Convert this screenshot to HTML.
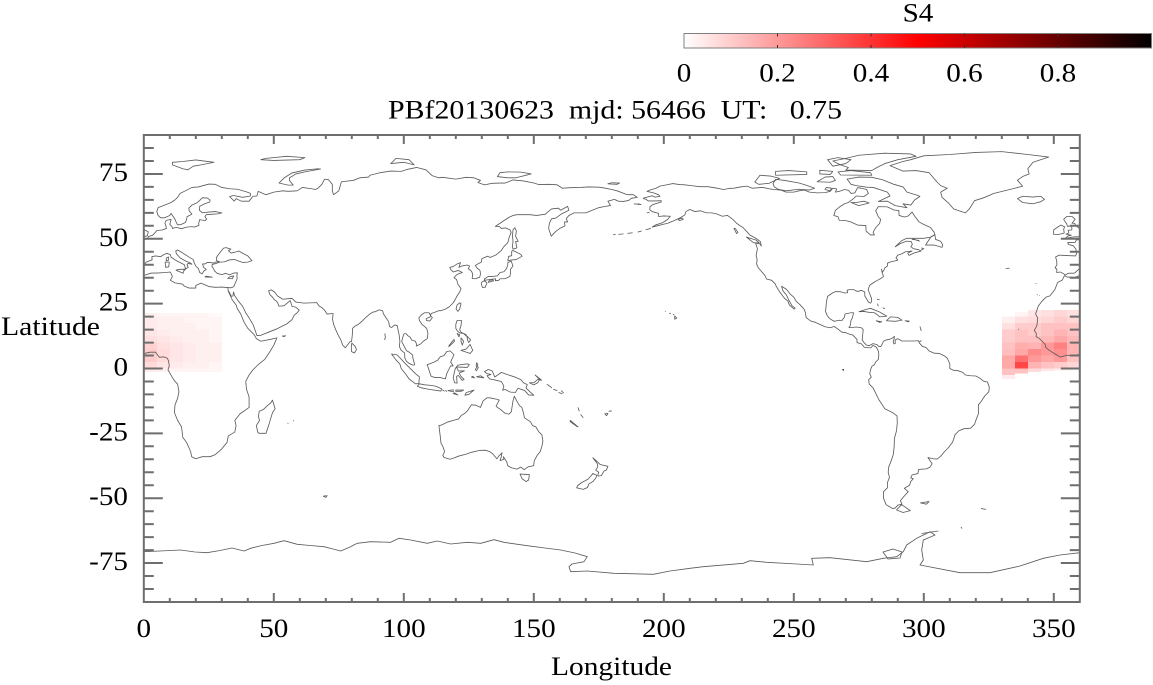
<!DOCTYPE html>
<html><head><meta charset="utf-8"><style>
html,body{margin:0;padding:0;background:#fff;width:1153px;height:685px;overflow:hidden}
svg{display:block}
text{font-family:"Liberation Serif","DejaVu Serif",serif;font-size:26px;fill:#000}
</style></head><body>
<svg xmlns="http://www.w3.org/2000/svg" width="1153" height="685" viewBox="0 0 1153 685">
<defs>
<clipPath id="clp"><rect x="143.8" y="135" width="936" height="467"/></clipPath>
<linearGradient id="cb" x1="0" y1="0" x2="1" y2="0">
<stop offset="0" stop-color="#ffffff"/><stop offset="0.5" stop-color="#ff0000"/><stop offset="1" stop-color="#000000"/>
</linearGradient>
</defs>
<rect width="1153" height="685" fill="#fff"/>
<g clip-path="url(#clp)">
<g shape-rendering="crispEdges">
<rect x="1001.8" y="316.62" width="13" height="6.6" fill="rgb(255,240,240)"/>
<rect x="1001.8" y="323.1" width="13" height="6.6" fill="rgb(255,224,224)"/>
<rect x="1001.8" y="329.59" width="13" height="6.6" fill="rgb(255,204,204)"/>
<rect x="1001.8" y="336.08" width="13" height="6.6" fill="rgb(255,204,204)"/>
<rect x="1001.8" y="342.56" width="13" height="6.6" fill="rgb(255,194,194)"/>
<rect x="1001.8" y="349.05" width="13" height="6.6" fill="rgb(255,189,189)"/>
<rect x="1001.8" y="355.53" width="13" height="6.6" fill="rgb(255,168,168)"/>
<rect x="1001.8" y="362.02" width="13" height="6.6" fill="rgb(255,168,168)"/>
<rect x="1001.8" y="368.5" width="13" height="6.6" fill="rgb(255,194,194)"/>
<rect x="1001.8" y="374.99" width="13" height="4" fill="rgb(255,235,235)"/>
<rect x="1014.8" y="312" width="13" height="4.7" fill="rgb(255,245,245)"/>
<rect x="1014.8" y="316.62" width="13" height="6.6" fill="rgb(255,224,224)"/>
<rect x="1014.8" y="323.1" width="13" height="6.6" fill="rgb(255,204,204)"/>
<rect x="1014.8" y="329.59" width="13" height="6.6" fill="rgb(255,194,194)"/>
<rect x="1014.8" y="336.08" width="13" height="6.6" fill="rgb(255,194,194)"/>
<rect x="1014.8" y="342.56" width="13" height="6.6" fill="rgb(255,173,173)"/>
<rect x="1014.8" y="349.05" width="13" height="6.6" fill="rgb(255,168,168)"/>
<rect x="1014.8" y="355.53" width="13" height="6.6" fill="rgb(255,112,112)"/>
<rect x="1014.8" y="362.02" width="13" height="6.6" fill="rgb(255,71,71)"/>
<rect x="1014.8" y="368.5" width="13" height="5" fill="rgb(255,194,194)"/>
<rect x="1027.8" y="310.14" width="13" height="6.6" fill="rgb(255,230,230)"/>
<rect x="1027.8" y="316.62" width="13" height="6.6" fill="rgb(255,219,219)"/>
<rect x="1027.8" y="323.1" width="13" height="6.6" fill="rgb(255,204,204)"/>
<rect x="1027.8" y="329.59" width="13" height="6.6" fill="rgb(255,204,204)"/>
<rect x="1027.8" y="336.08" width="13" height="6.6" fill="rgb(255,194,194)"/>
<rect x="1027.8" y="342.56" width="13" height="6.6" fill="rgb(255,179,179)"/>
<rect x="1027.8" y="349.05" width="13" height="6.6" fill="rgb(255,138,138)"/>
<rect x="1027.8" y="355.53" width="13" height="6.6" fill="rgb(255,153,153)"/>
<rect x="1027.8" y="362.02" width="13" height="6.6" fill="rgb(255,179,179)"/>
<rect x="1027.8" y="368.5" width="13" height="3.5" fill="rgb(255,219,219)"/>
<rect x="1040.8" y="310.14" width="13" height="6.6" fill="rgb(255,224,224)"/>
<rect x="1040.8" y="316.62" width="13" height="6.6" fill="rgb(255,214,214)"/>
<rect x="1040.8" y="323.1" width="13" height="6.6" fill="rgb(255,194,194)"/>
<rect x="1040.8" y="329.59" width="13" height="6.6" fill="rgb(255,194,194)"/>
<rect x="1040.8" y="336.08" width="13" height="6.6" fill="rgb(255,184,184)"/>
<rect x="1040.8" y="342.56" width="13" height="6.6" fill="rgb(255,153,153)"/>
<rect x="1040.8" y="349.05" width="13" height="6.6" fill="rgb(255,153,153)"/>
<rect x="1040.8" y="355.53" width="13" height="6.6" fill="rgb(255,168,168)"/>
<rect x="1040.8" y="362.02" width="13" height="6.6" fill="rgb(255,194,194)"/>
<rect x="1040.8" y="368.5" width="13" height="2.5" fill="rgb(255,230,230)"/>
<rect x="1053.8" y="310.14" width="13" height="6.6" fill="rgb(255,214,214)"/>
<rect x="1053.8" y="316.62" width="13" height="6.6" fill="rgb(255,204,204)"/>
<rect x="1053.8" y="323.1" width="13" height="6.6" fill="rgb(255,194,194)"/>
<rect x="1053.8" y="329.59" width="13" height="6.6" fill="rgb(255,179,179)"/>
<rect x="1053.8" y="336.08" width="13" height="6.6" fill="rgb(255,168,168)"/>
<rect x="1053.8" y="342.56" width="13" height="6.6" fill="rgb(255,128,128)"/>
<rect x="1053.8" y="349.05" width="13" height="6.6" fill="rgb(255,143,143)"/>
<rect x="1053.8" y="355.53" width="13" height="6.6" fill="rgb(255,153,153)"/>
<rect x="1053.8" y="362.02" width="13" height="6.6" fill="rgb(255,204,204)"/>
<rect x="1053.8" y="368.5" width="13" height="2" fill="rgb(255,235,235)"/>
<rect x="1066.8" y="310.14" width="13" height="6.6" fill="rgb(255,224,224)"/>
<rect x="1066.8" y="316.62" width="13" height="6.6" fill="rgb(255,214,214)"/>
<rect x="1066.8" y="323.1" width="13" height="6.6" fill="rgb(255,194,194)"/>
<rect x="1066.8" y="329.59" width="13" height="6.6" fill="rgb(255,194,194)"/>
<rect x="1066.8" y="336.08" width="13" height="6.6" fill="rgb(255,184,184)"/>
<rect x="1066.8" y="342.56" width="13" height="6.6" fill="rgb(255,179,179)"/>
<rect x="1066.8" y="349.05" width="13" height="6.6" fill="rgb(255,179,179)"/>
<rect x="1066.8" y="355.53" width="13" height="6.6" fill="rgb(255,194,194)"/>
<rect x="1066.8" y="362.02" width="13" height="6.6" fill="rgb(255,214,214)"/>
<rect x="1066.8" y="368.5" width="13" height="2" fill="rgb(255,240,240)"/>
<rect x="143.8" y="313" width="13" height="3.8" fill="rgb(255,240,240)"/>
<rect x="143.8" y="316.62" width="13" height="13" fill="rgb(255,235,235)"/>
<rect x="143.8" y="329.59" width="13" height="6.6" fill="rgb(255,230,230)"/>
<rect x="143.8" y="336.08" width="13" height="6.6" fill="rgb(255,224,224)"/>
<rect x="143.8" y="342.56" width="13" height="6.6" fill="rgb(255,209,209)"/>
<rect x="143.8" y="349.05" width="13" height="13" fill="rgb(255,204,204)"/>
<rect x="143.8" y="362.02" width="13" height="6.6" fill="rgb(255,219,219)"/>
<rect x="143.8" y="368.5" width="13" height="3.5" fill="rgb(255,235,235)"/>
<rect x="156.8" y="313" width="13" height="3.8" fill="rgb(255,245,245)"/>
<rect x="156.8" y="316.62" width="13" height="13" fill="rgb(255,240,240)"/>
<rect x="156.8" y="329.59" width="13" height="6.6" fill="rgb(255,235,235)"/>
<rect x="156.8" y="336.08" width="13" height="6.6" fill="rgb(255,230,230)"/>
<rect x="156.8" y="342.56" width="13" height="6.6" fill="rgb(255,224,224)"/>
<rect x="156.8" y="349.05" width="13" height="13" fill="rgb(255,219,219)"/>
<rect x="156.8" y="362.02" width="13" height="6.6" fill="rgb(255,230,230)"/>
<rect x="156.8" y="368.5" width="13" height="3.5" fill="rgb(255,240,240)"/>
<rect x="169.8" y="313" width="13" height="3.8" fill="rgb(255,245,245)"/>
<rect x="169.8" y="316.62" width="13" height="19.5" fill="rgb(255,240,240)"/>
<rect x="169.8" y="336.08" width="13" height="6.6" fill="rgb(255,235,235)"/>
<rect x="169.8" y="342.56" width="13" height="19.5" fill="rgb(255,230,230)"/>
<rect x="169.8" y="362.02" width="13" height="6.6" fill="rgb(255,235,235)"/>
<rect x="169.8" y="368.5" width="13" height="3.5" fill="rgb(255,245,245)"/>
<rect x="182.8" y="313" width="13" height="10.2" fill="rgb(255,245,245)"/>
<rect x="182.8" y="323.1" width="13" height="19.5" fill="rgb(255,240,240)"/>
<rect x="182.8" y="342.56" width="13" height="19.5" fill="rgb(255,235,235)"/>
<rect x="182.8" y="362.02" width="13" height="6.6" fill="rgb(255,240,240)"/>
<rect x="182.8" y="368.5" width="13" height="3.5" fill="rgb(255,245,245)"/>
<rect x="195.8" y="313" width="13" height="16.6" fill="rgb(255,245,245)"/>
<rect x="195.8" y="329.59" width="13" height="39" fill="rgb(255,240,240)"/>
<rect x="195.8" y="368.5" width="13" height="3.5" fill="rgb(255,245,245)"/>
<rect x="208.8" y="313" width="13" height="3.8" fill="rgb(255,250,250)"/>
<rect x="208.8" y="316.62" width="13" height="26" fill="rgb(255,245,245)"/>
<rect x="208.8" y="342.56" width="13" height="19.5" fill="rgb(255,240,240)"/>
<rect x="208.8" y="362.02" width="13" height="10" fill="rgb(255,245,245)"/>
</g>
<g transform="translate(143.8,368.5) scale(2.6,-2.594)" fill="none" stroke="#5a5a5a" stroke-width="0.32" stroke-linejoin="round">
<g id="coast">
<polyline points="-5.9,35.8 -6.8,34.0 -8.5,33.2 -9.6,30.4 -11.5,28.0 -13.0,27.5 -14.5,26.0 -16.0,24.0 -17.0,21.0 -16.2,19.5 -16.5,16.5 -17.5,14.7 -16.7,13.5 -16.8,12.3 -15.5,11.5 -14.5,10.5 -13.3,9.3 -13.2,8.3 -12.0,7.2 -10.5,6.2 -7.5,4.4 -5.0,5.1 -2.0,4.8 1.0,6.0 2.5,6.3 4.5,6.3 6.0,4.3 7.5,4.5 9.0,4.0 9.5,3.0 9.8,1.0 9.3,-0.5 11.0,-3.5 12.0,-5.0 13.0,-6.0 13.5,-9.0 13.0,-11.5 12.0,-14.0 11.8,-17.0 13.0,-20.0 14.5,-22.5 15.0,-26.5 16.5,-28.6 18.0,-32.0 18.4,-34.0 20.0,-34.8 22.5,-34.0 25.5,-34.0 27.5,-33.2 30.0,-31.0 32.0,-28.5 32.5,-26.0 35.0,-24.5 35.5,-22.0 35.0,-20.0 37.0,-17.5 40.5,-15.0 40.5,-11.0 39.5,-8.0 39.2,-5.0 40.5,-2.5 42.0,-0.5 44.0,1.5 46.5,3.5 48.5,6.5 50.0,9.0 51.2,11.8 49.0,11.3 45.0,10.5 43.3,11.5 42.5,13.0 40.0,15.5 38.5,18.0 37.3,21.0 36.0,23.0 35.5,24.5 34.0,26.5 32.5,29.8 32.3,31.2 30.0,31.4 27.5,31.3 25.0,31.6 22.0,32.9 20.0,32.0 20.0,31.0 17.5,31.0 15.5,31.8 15.0,32.5 12.0,33.0 10.2,34.0 11.0,35.5 10.2,37.2 8.5,37.0 5.0,36.8 3.0,36.8 0.0,35.9 -2.0,35.1 -5.0,35.3 -5.9,35.8"/>
<polyline points="32.6,29.9 33.7,27.8 34.3,28.0 34.5,29.5 35.0,28.0 36.5,25.8 38.0,24.0 39.2,21.5 40.5,19.5 42.0,17.0 42.8,14.8 43.5,12.7 45.0,12.8 48.0,14.0 51.0,15.2 52.2,15.8 55.0,17.2 57.0,18.8 57.8,20.5 59.0,21.5 59.8,22.5 58.5,23.6 57.0,24.0 56.3,26.2 55.5,25.5 54.0,24.2 52.0,24.0 51.5,25.3 51.0,26.0 50.2,26.5 49.5,27.5 48.5,28.5 48.0,29.9 49.0,30.3 50.3,29.5 51.5,27.9 53.5,26.7 55.5,26.9 57.0,27.0 58.5,25.6 61.6,25.2 64.0,25.3 66.5,25.4 67.5,24.0 68.5,23.5 69.5,22.5 70.5,21.0 72.8,21.2 72.6,19.0 73.0,17.0 73.8,15.0 74.8,12.8 75.8,11.0 76.5,9.0 77.5,8.0 78.2,8.9 79.3,10.3 79.9,10.4 80.2,13.0 80.3,15.5 81.3,16.4 82.5,17.0 84.0,18.3 85.5,19.8 86.9,21.0 88.0,21.7 89.0,21.9 90.5,22.6 91.8,22.3 92.2,21.0 93.0,19.8 94.2,18.0 94.5,16.2 95.3,15.8 96.5,16.8 97.5,16.5 97.8,14.8 98.2,13.0 98.5,10.5 98.3,8.4 99.0,7.0 100.3,6.0 100.4,4.0 101.0,2.8 102.0,2.0 103.5,1.3 104.2,1.4 103.5,4.0 103.4,5.2 102.2,6.2 101.0,6.9 100.3,8.3 99.8,9.2 99.2,10.5 99.6,12.0 100.1,13.4 100.9,13.4 101.5,12.7 102.5,12.0 103.0,11.0 104.5,10.5 105.0,9.0 104.8,8.6 106.5,9.5 107.5,10.5 109.0,11.5 109.3,13.5 108.8,15.5 107.0,17.0 106.0,18.5 105.8,19.5 106.8,20.7 108.0,21.5 109.7,21.5 110.3,20.3 110.5,21.2 111.7,21.6 113.5,22.3 114.3,22.3 116.0,22.9 117.5,23.8 119.0,25.3 119.7,26.5 120.5,28.0 121.5,29.5 122.0,30.8 121.3,31.8 120.8,32.5 120.3,34.3 119.3,35.0 120.3,36.1 121.0,36.5 122.5,37.0 121.0,37.8 119.0,37.2 118.0,38.2 117.7,39.0 119.0,39.3 120.5,40.3 121.8,40.8 121.2,39.0 122.3,39.5 124.3,39.9 125.3,39.5 124.8,38.5 126.0,37.5 126.5,36.5 126.3,34.7 127.5,34.6 129.2,35.2 129.5,36.5 129.3,37.8 128.3,38.6 127.5,39.7 128.8,40.5 129.8,41.0 130.0,42.3 131.0,42.8 132.3,43.3 133.2,42.8 135.5,43.8 137.5,45.5 138.5,47.0 140.0,48.5 140.5,50.5 141.3,52.5 140.8,53.5 139.0,54.2 137.5,54.0 136.8,54.7 135.2,54.8 137.0,56.0 138.5,57.0 140.5,58.3 142.0,59.0 143.5,59.3 146.0,59.3 148.5,59.3 151.0,59.0 152.5,59.2 154.5,59.5 155.0,60.0 156.8,61.5 159.5,61.8 160.3,61.0 163.0,62.5 163.5,61.0 160.5,59.5 158.5,58.0 156.8,57.7 156.0,56.0 155.7,54.0 156.7,51.0 158.5,52.9 160.0,54.0 162.0,55.0 161.8,56.5 163.0,56.5 162.5,57.8 163.5,59.0 165.5,60.0 170.0,60.0 172.5,61.0 175.0,62.0 177.5,62.5 179.5,62.8 178.5,64.5 181.0,65.2 182.5,64.5 184.5,64.4 186.5,64.8 187.5,65.6 189.8,66.0 188.3,67.0 186.0,67.0 182.0,68.5 180.0,69.0 177.0,69.6 175.0,69.9 171.0,70.0 168.0,69.8 164.0,69.7 161.0,69.5 159.0,70.8 156.0,71.0 152.0,70.9 150.0,71.5 146.0,72.3 142.0,72.7 139.0,71.5 137.0,71.5 134.0,71.4 131.0,70.8 128.5,71.7 129.5,72.5 127.0,73.5 124.0,73.7 120.0,73.0 115.0,73.7 113.5,73.5 111.0,74.3 108.5,76.6 105.0,77.5 101.5,76.8 99.0,76.0 95.0,76.1 91.0,75.5 87.0,74.5 86.5,73.8 83.0,73.5 80.5,72.5 76.0,72.0 75.0,68.5 73.0,67.0 72.5,68.5 72.5,71.0 71.0,72.8 69.5,73.0 68.5,71.0 67.0,69.5 66.0,69.0 64.5,69.3 61.0,69.8 59.0,68.5 55.5,68.3 53.5,68.5 50.0,68.0 47.0,67.0 44.0,68.3 43.5,66.5 42.0,66.4 40.5,64.5 37.5,64.5 35.5,65.5 34.8,64.5 33.0,66.3 34.5,66.7 38.0,66.0 41.0,66.5 41.0,67.5 39.5,68.1 36.0,69.1 33.0,69.3 30.0,69.8 27.5,71.0 25.0,71.1 21.0,70.0 18.5,69.8 16.0,68.5 14.0,67.5 13.0,66.0 12.0,65.0 10.5,64.0 8.0,63.0 5.5,62.0 5.0,60.5 5.5,59.0 6.5,58.1 8.0,58.1 10.0,59.0 10.5,59.8 11.0,59.0 11.5,58.3 12.0,57.5 12.5,56.3 13.0,55.4 14.3,55.5 16.0,56.3 16.5,57.5 16.6,58.5 18.5,59.5 17.5,60.7 17.3,61.8 18.5,63.0 20.5,63.9 21.5,64.8 22.5,65.8 24.5,65.7 25.5,64.9 25.3,64.2 23.0,63.3 21.5,62.5 21.4,61.0 22.5,60.0 25.0,60.3 27.5,60.5 30.0,60.0 28.5,59.6 26.5,59.5 24.0,59.3 23.5,58.5 24.2,57.6 23.5,57.0 21.5,57.4 21.1,56.0 21.2,55.2 19.5,54.5 18.5,54.7 16.5,54.5 14.5,53.9 12.5,54.4 11.0,54.0 10.8,54.8 10.0,55.5 10.5,57.5 8.6,57.1 8.1,56.0 8.5,55.0 8.7,54.0 7.0,53.4 5.0,53.2 4.2,52.2 3.3,51.3 1.8,50.9 1.5,50.2 0.0,49.6 -1.3,49.6 -1.8,48.6 -4.7,48.5 -4.3,47.8 -2.5,47.3 -1.5,46.0 -1.2,44.5 -1.6,43.4 -3.8,43.5 -6.0,43.6 -8.0,43.7 -9.3,43.0 -8.9,41.5 -8.8,40.0 -9.5,38.8 -8.8,38.3 -8.9,37.0 -7.5,37.2 -6.3,36.6 -5.6,36.0 -4.5,36.7 -2.0,36.8 -0.5,38.2 0.2,38.8 -0.3,39.5 0.9,41.0 3.2,41.9 3.1,43.1 4.5,43.4 6.5,43.1 7.5,43.8 8.8,44.4 10.2,43.9 10.5,42.9 12.3,41.7 14.0,40.8 15.6,40.0 16.0,38.7 15.7,37.9 16.2,38.5 17.1,39.0 16.6,40.0 17.0,40.5 18.5,40.2 18.0,40.6 16.0,41.5 14.0,42.6 12.5,44.3 12.3,45.3 13.0,45.7 13.7,45.3 15.0,44.5 17.0,43.2 19.0,42.0 19.5,40.5 20.0,39.5 21.0,38.5 21.5,37.0 22.5,36.5 23.0,37.5 24.0,38.2 23.0,39.0 22.6,40.3 23.5,40.3 24.5,40.9 26.0,40.8 26.8,40.6 27.5,41.0 29.0,41.2 28.0,41.6 27.9,42.7 28.6,43.8 29.7,45.2 30.7,46.4 31.7,46.6 33.5,46.0 32.5,45.4 33.6,44.5 35.3,44.9 36.5,45.3 38.3,44.3 40.0,43.4 41.6,41.6 40.0,41.0 38.0,40.9 36.0,41.6 35.0,42.0 33.0,41.9 31.0,41.1 29.2,41.0 27.5,40.4 26.3,40.1 26.2,39.4 26.8,38.5 27.2,37.6 28.2,36.7 30.0,36.2 31.5,36.7 33.0,36.1 34.6,36.8 36.0,36.9 35.8,35.7 35.9,34.6 35.2,33.0 34.6,31.5 33.5,31.1 32.3,31.2"/>
<polyline points="-168.0,65.6 -164.5,66.6 -163.5,66.1 -161.5,66.3 -162.0,67.0 -164.0,67.7 -166.5,68.3 -165.0,68.9 -163.0,69.5 -161.5,70.3 -159.0,70.8 -156.5,71.3 -154.0,70.9 -152.0,70.8 -149.5,70.5 -146.0,70.1 -143.0,70.1 -140.0,69.6 -137.0,69.0 -135.0,69.4 -133.0,69.5 -130.5,70.0 -128.0,70.3 -126.0,69.5 -124.5,69.6 -122.0,69.8 -118.0,69.0 -115.0,68.8 -113.0,68.0 -110.0,68.0 -108.0,68.5 -106.0,68.8 -104.0,68.0 -101.0,67.7 -98.0,67.8 -96.0,68.3 -95.0,69.5 -93.5,69.2 -94.0,68.0 -92.5,68.3 -90.5,69.0 -89.0,68.7 -88.0,67.5 -86.5,67.7 -85.5,69.7 -84.0,69.5 -82.0,69.0 -81.3,67.5 -83.0,66.3 -86.0,66.5 -87.0,65.5 -89.0,64.0 -90.5,63.5 -92.5,62.2 -94.0,61.0 -94.6,59.0 -93.0,58.5 -92.5,57.1 -90.0,57.0 -88.0,56.5 -85.5,55.3 -82.3,55.1 -82.2,53.0 -80.5,51.5 -79.0,51.5 -79.5,52.5 -78.5,54.3 -77.0,55.9 -76.6,57.5 -77.5,58.5 -78.5,60.8 -77.5,62.4 -74.0,62.3 -71.5,61.1 -69.6,60.9 -69.5,59.0 -67.5,58.4 -66.0,58.8 -64.5,60.3 -63.5,58.7 -61.8,56.5 -60.0,55.5 -57.5,54.4 -56.0,52.5 -55.8,51.5 -57.5,50.6 -60.0,50.2 -63.0,50.2 -66.5,50.2 -68.5,49.3 -71.0,46.9 -69.0,48.2 -66.5,49.1 -64.8,48.9 -64.4,47.8 -65.0,47.0 -64.0,46.2 -62.0,45.8 -61.0,45.3 -63.5,44.6 -65.7,43.6 -66.2,44.5 -64.5,45.3 -67.0,45.0 -68.5,44.2 -70.0,43.7 -70.7,42.6 -70.0,41.8 -71.0,41.5 -72.5,41.2 -74.0,40.6 -74.0,39.5 -75.0,38.8 -75.3,38.0 -75.9,37.1 -76.3,38.3 -76.0,36.9 -75.5,35.5 -76.5,34.7 -78.0,33.9 -79.2,33.2 -80.8,32.1 -81.4,30.5 -81.0,29.3 -80.1,27.0 -80.1,25.8 -80.5,25.2 -81.2,25.5 -81.8,26.5 -82.7,28.0 -82.7,29.5 -84.0,30.1 -85.5,29.7 -87.0,30.4 -88.5,30.4 -89.5,30.2 -89.3,29.2 -90.5,29.1 -92.0,29.6 -94.0,29.6 -95.0,29.2 -97.0,27.8 -97.4,26.0 -97.6,24.0 -97.8,22.0 -97.2,20.5 -96.3,19.3 -95.0,18.5 -94.5,18.2 -92.5,18.6 -91.5,18.5 -90.5,19.8 -90.3,21.0 -88.0,21.5 -87.0,21.5 -87.5,19.5 -88.0,18.5 -88.3,16.5 -88.8,15.8 -87.5,15.8 -86.0,16.0 -84.0,15.7 -83.3,15.0 -83.5,13.0 -83.7,11.0 -83.0,10.0 -82.0,9.0 -81.0,8.8 -79.5,9.6 -78.0,9.2 -77.3,8.5 -76.5,8.5 -76.0,9.4 -75.5,10.5 -74.5,11.0 -73.0,11.3 -72.0,11.8 -71.3,12.4 -71.5,11.0 -71.8,10.6 -71.5,9.5 -71.0,9.6 -71.0,11.0 -70.0,11.5 -68.5,10.6 -66.0,10.6 -64.0,10.6 -62.0,10.7 -61.7,9.8 -60.5,8.5 -59.0,8.0 -58.0,6.8 -56.0,5.9 -54.0,5.8 -52.0,4.8 -51.0,4.0 -50.0,1.8 -50.0,0.0 -48.5,-0.7 -47.0,-0.8 -45.0,-1.5 -44.0,-2.5 -42.0,-2.8 -40.0,-2.9 -38.5,-3.7 -37.0,-4.9 -35.5,-5.2 -34.8,-7.2 -35.0,-9.0 -36.5,-10.5 -38.0,-12.8 -39.0,-14.0 -39.0,-17.5 -39.8,-19.5 -40.5,-21.5 -42.0,-23.0 -44.5,-23.2 -46.5,-24.0 -48.0,-25.5 -48.6,-27.5 -49.0,-28.5 -50.5,-30.5 -52.0,-32.0 -53.5,-33.8 -54.9,-34.9 -56.5,-34.8 -58.4,-34.3 -57.3,-36.0 -56.8,-36.7 -57.6,-38.0 -59.0,-38.7 -62.0,-38.9 -62.3,-40.5 -64.5,-41.0 -65.0,-42.2 -64.0,-42.5 -65.0,-43.5 -65.5,-45.0 -67.5,-46.2 -66.0,-47.5 -67.8,-49.5 -69.0,-51.0 -68.4,-52.3 -70.0,-52.7 -71.0,-53.8 -72.0,-54.0 -74.5,-52.5 -75.5,-50.0 -75.5,-47.5 -74.0,-46.0 -74.0,-44.0 -73.2,-42.0 -73.7,-40.0 -73.5,-38.0 -72.5,-35.5 -71.7,-33.0 -71.4,-30.0 -71.3,-27.0 -70.5,-24.0 -70.2,-21.0 -70.3,-18.3 -72.0,-17.0 -75.0,-15.5 -76.3,-13.5 -77.3,-12.0 -78.5,-9.5 -79.5,-7.5 -81.0,-6.0 -81.2,-4.3 -80.2,-3.3 -80.8,-2.0 -80.5,-0.5 -80.0,0.8 -79.0,1.5 -78.5,2.5 -77.5,3.5 -77.3,5.0 -77.4,6.5 -78.2,8.2 -79.5,8.9 -80.4,8.0 -81.5,8.0 -82.9,8.2 -84.0,9.5 -85.7,10.0 -85.7,11.2 -87.3,12.9 -88.5,13.2 -90.0,13.8 -91.5,14.0 -93.0,15.2 -94.5,16.2 -96.0,15.7 -98.0,16.1 -100.0,17.0 -101.7,17.8 -103.5,18.3 -105.3,19.7 -105.5,21.5 -106.0,22.8 -107.5,24.5 -109.0,25.8 -110.0,27.5 -111.5,28.8 -112.8,30.5 -114.7,31.7 -114.2,30.0 -112.8,28.3 -112.0,26.5 -110.7,24.2 -109.5,23.3 -109.9,22.9 -111.7,24.5 -112.3,26.0 -113.5,27.0 -114.3,28.0 -115.6,29.8 -116.7,31.6 -117.2,32.7 -118.5,34.0 -120.5,34.5 -121.0,35.7 -122.5,37.5 -123.7,38.9 -124.3,40.3 -124.1,42.0 -124.5,43.5 -124.0,46.2 -124.7,48.4 -123.0,48.0 -122.5,47.2 -122.8,48.9 -124.8,50.3 -127.0,51.5 -128.0,52.7 -129.7,54.5 -130.5,54.9 -132.0,56.0 -133.5,57.5 -135.5,59.0 -137.5,58.7 -139.7,59.6 -141.5,60.0 -143.5,60.0 -146.0,60.8 -148.0,60.5 -150.0,61.3 -151.5,60.5 -151.9,59.2 -153.5,58.2 -155.0,57.5 -156.5,56.8 -158.5,56.0 -160.5,55.5 -162.5,55.0 -164.5,54.5 -163.0,55.4 -160.5,56.2 -158.5,57.5 -157.5,58.7 -160.0,58.8 -162.0,58.6 -162.0,59.8 -164.5,60.5 -165.4,61.2 -165.3,62.4 -164.2,63.2 -161.0,64.2 -161.0,64.7 -163.5,64.6 -166.0,64.6 -166.8,65.2 -168.0,65.6"/>
<polygon points="-5.7,50.1 -3.0,50.7 0.0,50.8 1.4,51.2 1.7,52.7 0.3,53.4 -0.2,54.0 -1.5,55.0 -2.0,56.0 -3.0,56.0 -1.8,57.5 -3.0,58.6 -5.0,58.6 -6.2,57.5 -5.6,56.5 -5.0,55.8 -4.8,54.8 -3.2,54.9 -3.0,53.8 -3.2,53.4 -4.5,53.3 -4.2,52.3 -5.3,51.8 -3.3,51.4 -4.5,51.1"/>
<polygon points="-6.0,52.2 -6.2,53.8 -5.8,54.6 -7.3,55.3 -8.5,54.5 -10.0,53.5 -10.2,51.8 -8.5,51.6"/>
<polygon points="-22.0,64.0 -24.0,65.5 -22.0,66.4 -18.0,66.1 -15.0,66.4 -13.6,65.2 -15.0,64.3 -18.0,63.5"/>
<polygon points="11.0,78.5 15.0,77.0 17.0,76.6 19.0,78.0 22.0,78.5 27.0,79.5 20.0,80.4 15.0,79.8 11.0,79.5"/>
<polygon points="52.0,71.5 55.5,70.7 57.5,70.7 56.0,72.5 56.0,73.5 58.5,75.0 62.0,75.8 68.0,76.9 67.0,77.0 62.0,76.5 57.0,75.4 54.0,73.5 53.0,72.5"/>
<polygon points="45,80.5 50,80.2 60,80.5 62,81.3 55,81.8 47,81"/>
<polygon points="95,79 100,79.5 104,78.5 102,80.5 97,81"/>
<polygon points="136,74 140,73.5 143,73.5 149,75 145,75.7 140,75.8 137,75.5"/>
<polygon points="178.5,71.2 182,71 183,71.5 180,71.6"/>
<polygon points="8.4,39 9.6,39.2 9.8,41 8.2,41"/>
<polygon points="8.6,41.5 9.4,41.6 9.5,43 8.7,42.6"/>
<polygon points="12.4,37.9 15.1,36.7 15.6,38.3 13.5,38.2"/>
<polygon points="23.5,35.3 26.3,35.2 24,35.6"/>
<polygon points="32.3,34.7 34,34.6 34.6,35.7 33,35.3"/>
<polygon points="53.3,12.5 54.5,12.6 54,12.3"/>
<polygon points="69,-49.2 70.5,-49 70,-49.7"/>
<polyline points="57.5,-20.3 57.7,-20"/>
<polyline points="55.3,-21 55.6,-21.2"/>
<polyline points="92.7,13.5 92.9,12 92.6,11"/>
<polyline points="-16.5,28.3 -16.2,28.5"/>
<polyline points="-15.5,28 -15.6,28.2"/>
<polyline points="-23.6,15 -23.4,15.3"/>
<polyline points="-28.5,38.5 -27,38.7"/>
<polyline points="-17,32.7 -16.7,32.8"/>
<polygon points="142,46 143.5,46.5 143,49 144,49 143,51 143.3,53 142.7,54.3 142,53.5 141.8,51 142,49 141.8,47"/>
<polygon points="140,41.5 141.2,41.8 143.2,42 145.5,43.3 145,44 142,45.5 141.5,45.2 141.5,43.5 140.3,43.2"/>
<polygon points="141.3,41.4 142,39.5 141,38.2 141,36.5 140.8,35.5 139.8,35 138.8,34.6 137,34.6 136.5,34 135.2,33.8 135.3,34.6 133,34.3 131,34 131,34.5 132.5,35.5 134,35.5 136,35.7 137,37 138.5,37.3 139.5,38.5 140,40 140,40.8"/>
<polygon points="130,33.3 131,33.9 132,33 131.3,31.3 130.2,31.3 129.8,32.7"/>
<polygon points="132.5,33.2 134.5,33.8 134.3,34.2 132.9,34"/>
<polygon points="120.1,23 120.8,22 121.5,23 122,25 121.5,25.3 120.5,24.5"/>
<polygon points="108.6,19.2 110.5,20.1 111,19.6 110,18.3 108.7,18.5"/>
<polygon points="120.5,18.5 122.2,18.5 122,16.5 121.5,15 122,14 124,13 124,12.5 123,13.5 121.5,13.7 120.6,14.5 120,15.5 120,17"/>
<polygon points="122,7 124,7.5 125.5,9.3 126.5,7 125.5,5.8 124,6.3"/>
<polygon points="124.3,12.5 125.7,11 125,10 124.5,11"/>
<polygon points="122,11.8 123,10.5 122.5,9 122,10.5"/>
<polygon points="117.3,8.4 119.5,10.5 119.3,11.2 117.5,9"/>
<polygon points="120.5,13.5 121.5,13 121.2,12.2"/>
<polygon points="109,1.5 109.5,0 110,-1.5 110.5,-3 112,-3.5 114,-3.5 116,-4 116.5,-2 117.5,0 118,1 119,1 118,2.5 119.3,5.3 117.8,6.8 116.5,6.5 115.5,5 114,4.5 113,3.2 111.5,2.4 110,1.8"/>
<polygon points="95.3,5.6 97.5,5.2 100.3,2.2 103.5,-1 104.5,-2 106,-3.2 105.8,-5.8 104.5,-5.9 102,-4 101,-2.5 99,0 98.5,1.7 97,3.3"/>
<polygon points="105.2,-6.8 106,-5.9 108,-6.3 110.5,-6.5 112.5,-6.9 114.5,-7.8 114.3,-8.7 110,-8.1 106.5,-7.4"/>
<polyline points="114.8,-8.2 115.7,-8.8"/>
<polyline points="116,-8.4 116.6,-8.9"/>
<polygon points="117,-8.5 119,-8.2 119,-9"/>
<polygon points="120,-8.3 123,-8.3 122,-8.8 120,-8.8"/>
<polygon points="119,-9.7 120.8,-10.2 119.5,-9.4"/>
<polygon points="124,-9.3 127,-8.3 125,-10 123.5,-10.3"/>
<polygon points="119.5,-5.5 120.5,-5.6 120.3,-3 121,-2.7 122.5,-4.6 123.2,-4.2 122,-3 121.3,-1.8 123.3,-0.9 121,-1 120.2,0.6 124.4,0.4 125.2,1.5 124.5,1.8 120.8,1.3 119.8,0 119,-3.5"/>
<polygon points="127.5,-0.5 128.5,1.5 128,2.2 127.8,1 128.7,0.5 128,-0.8"/>
<polygon points="128,-3.2 130.8,-3.6 129.5,-2.8"/>
<polygon points="126,-3.3 127.2,-3.6 126.5,-3"/>
<polygon points="131,-1.2 132.5,-0.4 134,-0.9 135,-3.3 137.5,-1.5 140,-2.4 142.5,-3.2 145,-4.3 146,-5.5 147.5,-6.2 147,-7.5 148.5,-9 150,-10.3 148,-10.2 146.5,-8.5 144,-7.6 143.3,-8.5 143,-9.2 141,-9.1 139,-8.1 138,-8.4 138.5,-6.8 137.5,-5 135,-4.4 133,-4 132,-2.8 133.5,-2.3 132,-2"/>
<polygon points="148.3,-5.5 150,-5.5 151.5,-4.2 152.2,-4.3 151.5,-5.5 150,-6.3"/>
<polygon points="150.5,-2.5 153,-4.5 152.5,-4.5"/>
<polyline points="155,-6 157,-7.5"/>
<polyline points="157.5,-8 159,-8.5"/>
<polyline points="159.5,-9.2 161,-9.8"/>
<polyline points="160.5,-8.5 161.5,-9.5"/>
<polyline points="167,-15 167.5,-16.5"/>
<polyline points="168,-17.7 169,-19"/>
<polygon points="164,-20 167,-22.5 166.5,-22.3 164,-20.5"/>
<polygon points="177.3,-17.5 178.5,-17.3 178,-18.2"/>
<polyline points="178.8,-16.5 180,-16.3"/>
<polygon points="113.5,-22 114,-26 114.3,-28.8 115,-30 115.7,-32 115,-33.5 115.5,-34.3 117.8,-35 119.5,-34.4 121,-33.8 124,-33 126,-32.3 129,-31.6 131.2,-31.5 133,-32 134.3,-33 135.8,-34.8 136.5,-33.8 137.8,-32.5 137.5,-34 137,-35.5 138.5,-35 138.3,-34 139.6,-36 140,-37.5 141.5,-38.3 143.5,-38.8 145,-38 146.3,-39 147.8,-37.9 149.9,-37.5 150.2,-35.5 151.3,-33.5 152.5,-32 153.1,-30 153.5,-28 153.1,-25.5 152,-24.5 150.8,-22.5 149.5,-22 148.7,-20.5 146.4,-19 146,-17 145.4,-15 144.5,-14.3 143.5,-12.6 142.5,-10.7 142,-12.5 141.6,-15 141.4,-16.6 140.5,-17.6 139,-17.3 137.5,-16 136,-15 135.5,-14.5 136.7,-12.2 136,-11.9 133,-11.3 132,-11.3 130.5,-12.5 129.5,-15 127.8,-14.2 126,-14 124.5,-16.3 123.5,-17.3 122.2,-18 121,-19.5 119,-20 117,-20.6 114.5,-21.8"/>
<polygon points="144.7,-40.7 148.3,-40.9 148,-43 147,-43.6 145.5,-42.5"/>
<polygon points="172.7,-34.4 174.5,-36 175.5,-37 178.5,-37.7 177.9,-39.2 177,-39.5 176,-41.3 175,-41.5 174.6,-41.2 175,-40 173.8,-39.2 174.6,-38 174.5,-36.8"/>
<polygon points="172.7,-40.5 174.3,-41.2 173.8,-42.3 172.8,-43.5 171.2,-44.5 170.6,-45.9 169,-46.6 166.5,-46 166.8,-45.2 168.4,-44 170.8,-42.7 172,-41.4"/>
<polygon points="79.9,6.5 81,6 81.8,7.3 81.3,8.5 80,9.8 79.8,8.2"/>
<polygon points="44.3,-25 47,-25 48,-22 49.5,-17 50.5,-15.5 49.5,-12.2 48.8,-13.3 47.9,-14 46,-15.8 44.4,-16.5 44.1,-18.5 44.5,-20 43.3,-22 43.8,-24.5"/>
<polygon points="-80,73.7 -76,72.8 -71.5,71 -68,70 -66.5,68 -62.5,66.8 -61.5,66.3 -63.5,65 -65,63 -68,63.5 -66.5,62 -71,62.8 -74,64.5 -77.5,64.4 -73,66.5 -74,68 -79.5,69.8 -82,69.9 -86,70.5 -88,71 -89.5,73 -85,73.8"/>
<polygon points="-118,71.3 -117,72.9 -113.5,72.5 -108,71.5 -105,70.6 -102,69.5 -104,68.8 -108,69.1 -113,68.5 -116,69.1 -117.5,70"/>
<polygon points="-125,71.9 -123,74.5 -119,74.2 -115.5,73.3 -119.5,71.4 -123.5,71"/>
<polygon points="-90,76.5 -80,76.3 -78,77.5 -75,79 -70,80.5 -63,81.8 -65,82.7 -75,83 -85,82.2 -90,81 -95,80 -92,78.5 -89,77.5"/>
<polygon points="-92,74.6 -80,74.5 -80.5,75.5 -88,76.3 -93,75.8"/>
<polygon points="-117,74.5 -105,74.8 -105,75.8 -112,76.3 -117,76.0"/>
<polygon points="-100,75 -96,74.8 -95,76 -100,76.4"/>
<polygon points="-95,78 -90,79 -88,80.5 -93,81.3 -97,80.5"/>
<polygon points="-101,72 -98,73.8 -95,74 -94,72.5 -96,71.8"/>
<polygon points="-86,64 -83,64.5 -81,63.8 -85,62.8 -88,64"/>
<polygon points="-98,69 -96,68.5 -95.5,69.5 -97.5,69.8"/>
<polygon points="-59.3,47.6 -56,47.6 -53,46.7 -52.7,47.6 -53.5,49 -55.5,49.8 -55.7,51.6 -57.3,50.7"/>
<polygon points="-64.5,49.8 -62,49.4 -61.7,49.1 -64,49.9"/>
<polyline points="-61,46.5 -60,46.2 -61,45.7"/>
<polygon points="-73,78.2 -68,76.1 -63,76.3 -58,75.5 -55,72 -53.5,70.5 -51,69.5 -53.5,68 -53,66 -50.5,63.8 -48.5,61.5 -44,60 -42.5,61.5 -40.5,64.7 -37,65.8 -33,67.5 -25,69.5 -22,70.3 -24,72.6 -22,74 -19.5,75 -20,77 -18,79.5 -12,81.5 -20,82.5 -30,83.6 -40,83.3 -50,82.5 -60,82 -65,80.5 -68,79.8"/>
<polygon points="-84.9,21.9 -82.5,22.7 -80.5,23.2 -77,21.8 -75.7,21 -74.2,20.2 -77,19.9 -77.7,20.6 -79,21.5 -81.5,21.7 -83,22"/>
<polygon points="-74.4,18.4 -72.8,19.9 -70,19.7 -68.4,18.6 -71,18.2"/>
<polygon points="-78.3,18.4 -76.2,18 -77,17.8"/>
<polygon points="-67.2,18.4 -65.6,18.3 -66,18"/>
<polyline points="-78,26.7 -77,26.5"/>
<polyline points="-77.8,25 -77.5,24"/>
<polyline points="-75.8,23.5 -75,23"/>
<polyline points="-61.9,10.1 -60.9,10.8"/>
<polyline points="-61.5,16.2 -61.2,15.4 -61,14.5"/>
<polygon points="-125.5,48.5 -128.3,50.7 -124.5,49.5 -123.3,48.4"/>
<polygon points="-132,52 -133,54 -132.5,54 -131.5,52.5"/>
<polygon points="-154,57 -152.5,57.5 -153,58 -154.5,57.5"/>
<polyline points="-165,54 -167,53.5"/>
<polyline points="-168.5,53 -170,52.6"/>
<polyline points="-172,52.3 -174,52.1"/>
<polyline points="-175.5,51.9 -177.5,51.7"/>
<polyline points="-178.5,51.8 -179.5,51.5"/>
<polyline points="-171.5,63.5 -168.8,63.2 -170,63.5"/>
<polyline points="-166.5,60 -165.5,60.2"/>
<polygon points="-155.8,20.2 -155,19.5 -155.8,19"/>
<polyline points="-156.5,20.8 -156,20.7"/>
<polyline points="-157.3,21.1 -157.9,21.4"/>
<polyline points="-159.5,22.1 -159.3,21.9"/>
<polyline points="-91.5,-0.5 -90.8,-0.3 -91,-1.0"/>
<polygon points="-61.3,-51.8 -58,-51.3 -59,-52.3"/>
<polygon points="-68.5,-52.5 -65.2,-54.8 -68,-55.5 -70.5,-54.5"/>
<polyline points="-38,-54 -36,-54.3"/>
</g>
<use href="#coast" transform="translate(360,0)"/>
</g>
<g fill="none" stroke="#5a5a5a" stroke-width="0.85" stroke-linejoin="round">
<polyline points="143.8,551.7 160,551 180.7,550 195,552 207,552.7 220,550.5 232,548 240,550 244,551 250.7,548.3 262,545.5 274,543.3 284,540.7 297.3,544.3 310,545.5 324,546.7 333,549 340.7,551 350,547 357.3,543.3 370.7,541.7 390.7,542.3 399,538.3 410.7,540 427.3,543.3 437.3,541 450.7,544 467.3,542.3 480.7,543.3 494,539.7 504,542.3 527.3,545.7 545,548 560.7,550 575,553 587.3,556.7 584,561.7 572,564 569,566.7 570.7,571.7 587.3,571 614,573.3 653.3,574.3 670,571 690,568.3 703.3,566.7 743.3,563.3 750,560.7 766.7,562.3 796.7,564 813.3,565 811.7,558.3 830,557.7 866.7,561.7 883.3,558.3 896.7,556.7 903.3,551.7 906.7,545 916.7,538.3 930,531.7 935,535 923.3,540 921.7,550 923.3,560 920,565 960,572.7 990,572.7 1020,566 1043.3,558.3 1060,555 1080,552.7"/>
<polygon points="883,552 893,549 902,552 900,558 888,559"/>
<polyline points="921.7,533.5 938.3,531"/>
<polyline points="961,527 962,528.5"/>
</g>
</g>
<g fill="none" stroke="#6e6e6e" stroke-width="2">
<rect x="143.8" y="135" width="936" height="467"/>
<path d="M143.8,148h10M143.8,161h10M143.8,173.95h19M143.8,186.9h10M143.8,199.9h10M143.8,212.9h10M143.8,225.8h10M143.8,238.8h19M143.8,251.8h10M143.8,264.7h10M143.8,277.7h10M143.8,290.7h10M143.8,303.65h19M143.8,316.6h10M143.8,329.6h10M143.8,342.6h10M143.8,355.5h10M143.8,368.5h19M143.8,381.5h10M143.8,394.4h10M143.8,407.4h10M143.8,420.4h10M143.8,433.35h19M143.8,446.3h10M143.8,459.3h10M143.8,472.3h10M143.8,485.2h10M143.8,498.2h19M143.8,511.2h10M143.8,524.1h10M143.8,537.1h10M143.8,550.1h10M143.8,563.05h19M143.8,576h10M143.8,589h10"/>
<path d="M1079.8,148h-10M1079.8,161h-10M1079.8,173.95h-19M1079.8,186.9h-10M1079.8,199.9h-10M1079.8,212.9h-10M1079.8,225.8h-10M1079.8,238.8h-19M1079.8,251.8h-10M1079.8,264.7h-10M1079.8,277.7h-10M1079.8,290.7h-10M1079.8,303.65h-19M1079.8,316.6h-10M1079.8,329.6h-10M1079.8,342.6h-10M1079.8,355.5h-10M1079.8,368.5h-19M1079.8,381.5h-10M1079.8,394.4h-10M1079.8,407.4h-10M1079.8,420.4h-10M1079.8,433.35h-19M1079.8,446.3h-10M1079.8,459.3h-10M1079.8,472.3h-10M1079.8,485.2h-10M1079.8,498.2h-19M1079.8,511.2h-10M1079.8,524.1h-10M1079.8,537.1h-10M1079.8,550.1h-10M1079.8,563.05h-19M1079.8,576h-10M1079.8,589h-10"/>
<path d="M169.8,602v-4M195.8,602v-4M221.8,602v-4M247.8,602v-4M273.8,602v-9M299.8,602v-4M325.8,602v-4M351.8,602v-4M377.8,602v-4M403.8,602v-9M429.8,602v-4M455.8,602v-4M481.8,602v-4M507.8,602v-4M533.8,602v-9M559.8,602v-4M585.8,602v-4M611.8,602v-4M637.8,602v-4M663.8,602v-9M689.8,602v-4M715.8,602v-4M741.8,602v-4M767.8,602v-4M793.8,602v-9M819.8,602v-4M845.8,602v-4M871.8,602v-4M897.8,602v-4M923.8,602v-9M949.8,602v-4M975.8,602v-4M1001.8,602v-4M1027.8,602v-4M1053.8,602v-9"/>
<path d="M169.8,135v4M195.8,135v4M221.8,135v4M247.8,135v4M273.8,135v9M299.8,135v4M325.8,135v4M351.8,135v4M377.8,135v4M403.8,135v9M429.8,135v4M455.8,135v4M481.8,135v4M507.8,135v4M533.8,135v9M559.8,135v4M585.8,135v4M611.8,135v4M637.8,135v4M663.8,135v9M689.8,135v4M715.8,135v4M741.8,135v4M767.8,135v4M793.8,135v9M819.8,135v4M845.8,135v4M871.8,135v4M897.8,135v4M923.8,135v9M949.8,135v4M975.8,135v4M1001.8,135v4M1027.8,135v4M1053.8,135v9"/>
</g>
<rect x="684" y="33.5" width="467.5" height="14.5" fill="url(#cb)" stroke="#808080" stroke-width="1"/>
<path d="M777.5,33.5v3M871,33.5v3M964.5,33.5v3M1058,33.5v3M777.5,48v-3M871,48v-3M964.5,48v-3M1058,48v-3" stroke="#333" stroke-width="1"/>
<text transform="translate(918,21.5) scale(1.12,1)" text-anchor="middle">S4</text>
<text transform="translate(684,81.5) scale(1.12,1)" text-anchor="middle">0</text>
<text transform="translate(777.5,81.5) scale(1.12,1)" text-anchor="middle">0.2</text>
<text transform="translate(871,81.5) scale(1.12,1)" text-anchor="middle">0.4</text>
<text transform="translate(964.5,81.5) scale(1.12,1)" text-anchor="middle">0.6</text>
<text transform="translate(1058,81.5) scale(1.12,1)" text-anchor="middle">0.8</text>
<text x="388" y="118.5" textLength="454" lengthAdjust="spacingAndGlyphs" style="white-space:pre">PBf20130623  mjd: 56466  UT:   0.75</text>
<text transform="translate(128,181) scale(1.12,1)" text-anchor="end">75</text>
<text transform="translate(128,245.8) scale(1.12,1)" text-anchor="end">50</text>
<text transform="translate(128,310.6) scale(1.12,1)" text-anchor="end">25</text>
<text transform="translate(128,375.5) scale(1.12,1)" text-anchor="end">0</text>
<text transform="translate(128,440.3) scale(1.12,1)" text-anchor="end">-25</text>
<text transform="translate(128,505.2) scale(1.12,1)" text-anchor="end">-50</text>
<text transform="translate(128,570) scale(1.12,1)" text-anchor="end">-75</text>
<text transform="translate(143.8,637) scale(1.12,1)" text-anchor="middle">0</text>
<text transform="translate(273.8,637) scale(1.12,1)" text-anchor="middle">50</text>
<text transform="translate(403.8,637) scale(1.12,1)" text-anchor="middle">100</text>
<text transform="translate(533.8,637) scale(1.12,1)" text-anchor="middle">150</text>
<text transform="translate(663.8,637) scale(1.12,1)" text-anchor="middle">200</text>
<text transform="translate(793.8,637) scale(1.12,1)" text-anchor="middle">250</text>
<text transform="translate(923.8,637) scale(1.12,1)" text-anchor="middle">300</text>
<text transform="translate(1053.8,637) scale(1.12,1)" text-anchor="middle">350</text>
<text x="551" y="675" textLength="121" lengthAdjust="spacingAndGlyphs">Longitude</text>
<text x="1" y="335" textLength="99" lengthAdjust="spacingAndGlyphs">Latitude</text>
</svg>
</body></html>
